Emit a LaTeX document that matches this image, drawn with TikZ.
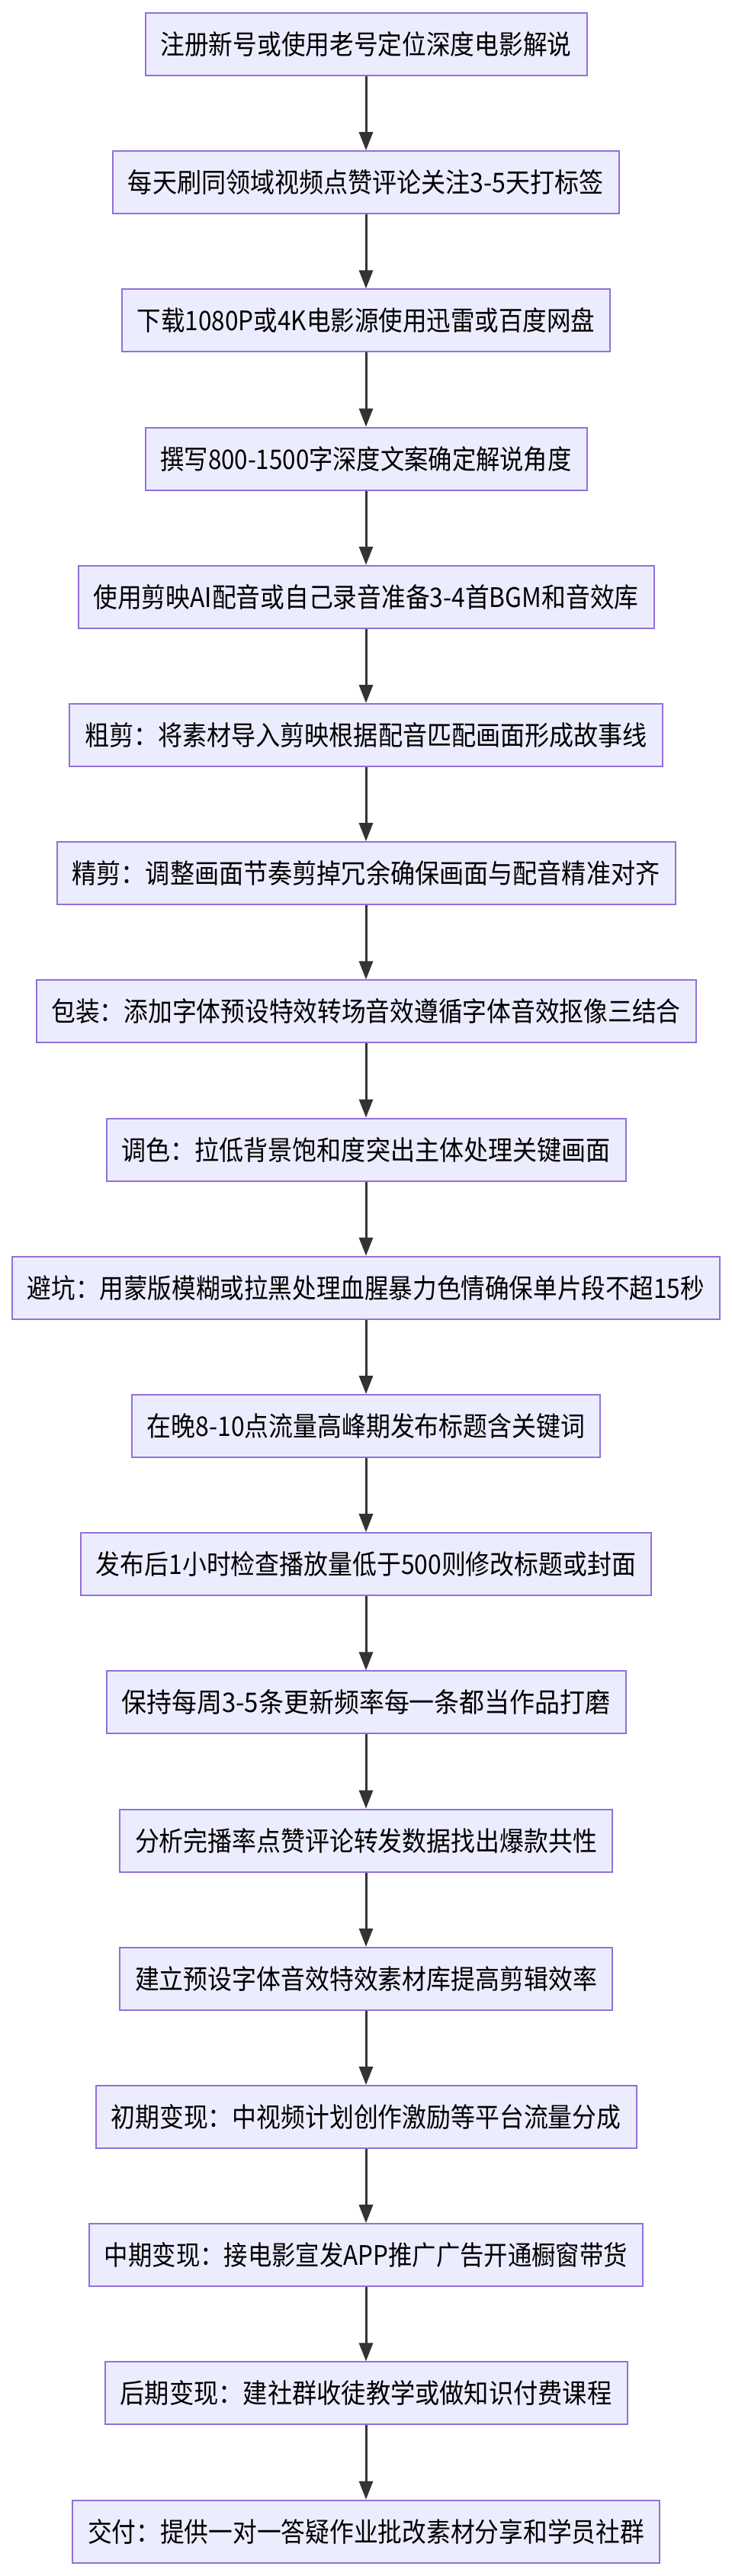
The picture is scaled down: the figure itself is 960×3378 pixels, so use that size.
\documentclass[tikz,border=0pt]{standalone}
\usepackage{fontspec}
\newfontfamily\cjk{Noto Sans CJK SC}
\usetikzlibrary{arrows.meta}
\tikzset{
  stepbox/.style={draw=mmborder,fill=mmfill,line width=2pt,minimum height=82pt,inner sep=0pt,font=\cjk},
  flow/.style={draw=mmline,line width=3pt,-{Triangle[length=24pt,width=18pt]}}
}
\definecolor{mmfill}{HTML}{ECECFF}
\definecolor{mmborder}{HTML}{9370DB}
\definecolor{mmline}{HTML}{333333}
\newcommand{\mybox}[4]{%
  \node[stepbox,minimum width=#2pt] (#1) at (480pt,{-(58+181.2*#3)*1pt})
   {\resizebox{\dimexpr #2pt-40pt\relax}{30pt}{#4}};}
\begin{document}
\begin{tikzpicture}[x=1pt,y=1pt]
\useasboundingbox (0,0) rectangle (960,-3378);
\fill[white] (0,0) rectangle (960,-3378);
\mybox{n1}{579}{0}{注册新号或使用老号定位深度电影解说}
\mybox{n2}{664}{1}{每天刷同领域视频点赞评论关注3-5天打标签}
\mybox{n3}{640}{2}{下载1080P或4K电影源使用迅雷或百度网盘}
\mybox{n4}{579}{3}{撰写800-1500字深度文案确定解说角度}
\mybox{n5}{755}{4}{使用剪映AI配音或自己录音准备3-4首BGM和音效库}
\mybox{n6}{778}{5}{粗剪：将素材导入剪映根据配音匹配画面形成故事线}
\mybox{n7}{811}{6}{精剪：调整画面节奏剪掉冗余确保画面与配音精准对齐}
\mybox{n8}{865}{7}{包装：添加字体预设特效转场音效遵循字体音效抠像三结合}
\mybox{n9}{681}{8}{调色：拉低背景饱和度突出主体处理关键画面}
\mybox{n10}{928}{9}{避坑：用蒙版模糊或拉黑处理血腥暴力色情确保单片段不超15秒}
\mybox{n11}{614}{10}{在晚8-10点流量高峰期发布标题含关键词}
\mybox{n12}{748}{11}{发布后1小时检查播放量低于500则修改标题或封面}
\mybox{n13}{681}{12}{保持每周3-5条更新频率每一条都当作品打磨}
\mybox{n14}{646}{13}{分析完播率点赞评论转发数据找出爆款共性}
\mybox{n15}{646}{14}{建立预设字体音效特效素材库提高剪辑效率}
\mybox{n16}{709}{15}{初期变现：中视频计划创作激励等平台流量分成}
\mybox{n17}{726}{16}{中期变现：接电影宣发APP推广广告开通橱窗带货}
\mybox{n18}{685}{17}{后期变现：建社群收徒教学或做知识付费课程}
\mybox{n19}{770}{18}{交付：提供一对一答疑作业批改素材分享和学员社群}
\foreach \a/\b in {n1/n2,n2/n3,n3/n4,n4/n5,n5/n6,n6/n7,n7/n8,n8/n9,n9/n10,n10/n11,n11/n12,n12/n13,n13/n14,n14/n15,n15/n16,n16/n17,n17/n18,n18/n19}
  \draw[flow] (\a) -- (\b);
\end{tikzpicture}
\end{document}
